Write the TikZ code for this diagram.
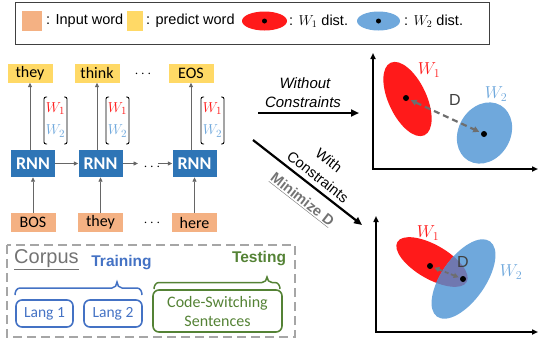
\documentclass[tikz,border=0pt]{standalone}
\usepackage{fontspec}
\setmainfont{Liberation Sans}
\newfontfamily\calfont{Carlito}
\usetikzlibrary{arrows.meta}
\definecolor{inorange}{HTML}{F4B183}
\definecolor{predyellow}{HTML}{FFD966}
\definecolor{rnnblue}{HTML}{2E75B6}
\definecolor{wred}{HTML}{FF1A1A}
\definecolor{wblue}{HTML}{6FA8DC}
\definecolor{trainblue}{HTML}{4472C4}
\definecolor{testgreen}{HTML}{548235}
\definecolor{overlapc}{HTML}{7078B0}
\definecolor{dgray}{HTML}{6E6E6E}
\definecolor{corpgray}{HTML}{A6A6A6}
\newcommand{\fsz}[2]{\fontsize{#1}{#2}\selectfont}
\begin{document}
\begin{tikzpicture}[x=1pt,y=-1pt,
  wordbox/.style={minimum width=45pt, minimum height=19pt, inner sep=0pt, font=\calfont\fsz{16}{18}},
  inbox/.style={wordbox, fill=inorange},
  predbox/.style={wordbox, fill=predyellow},
  rnnbox/.style={fill=rnnblue, text=white, minimum width=44pt, minimum height=27pt, inner sep=0pt, font=\calfont\bfseries\fsz{18}{20}},
  flow/.style={draw=black!60, line width=0.8pt, -{Triangle[length=4.5pt,width=4pt]}},
  bigarrow/.style={line width=2.2pt, -{Triangle[length=8pt,width=7pt]}},
  axisline/.style={line width=1.6pt, -{Triangle[length=6pt,width=5pt]}},
  distarrow/.style={dash pattern=on 6pt off 4pt, draw=dgray, line width=2.2pt, {Triangle[length=6pt,width=6pt]}-{Triangle[length=6pt,width=6pt]}},
  bigdot/.style={circle, fill=black, inner sep=0pt, minimum size=6pt},
  wlab/.style={inner sep=0pt, font=\fsz{15}{17}},
  legtext/.style={inner sep=0pt, anchor=west, font=\fsz{14.5}{16}},
  bracketline/.style={line width=0.9pt, rounded corners=2pt},
  cdots/.style={inner sep=0pt, font=\fsz{14}{16}},
  langbox/.style={draw=trainblue, text=trainblue, line width=1.6pt, rounded corners=6pt, inner sep=0pt, font=\calfont\fsz{15.5}{17}},
  plotlab/.style={inner sep=0pt, font=\fsz{18}{20}},
  slopetext/.style={inner sep=0pt, rotate=-38, font=\fsz{14.5}{16}},
]
\useasboundingbox (0,0) rectangle (538,341);

% ---------- legend ----------
\node[draw=black!75, line width=0.8pt, minimum width=474pt, minimum height=42pt, inner sep=0pt] (legend) at (252,23) {};
\node[fill=inorange, minimum width=20pt, minimum height=20pt, inner sep=0pt] (legin) at (32,21) {};
\node[legtext] (legintext) at (46,21) {: Input word};
\node[fill=predyellow, minimum width=16pt, minimum height=20pt, inner sep=0pt] (legpred) at (135,21) {};
\node[legtext] (legpredtext) at (146,21) {: predict word};
\fill[wred] (264.5,21) ellipse [x radius=22.5, y radius=9.5];
\node[bigdot, minimum size=5pt] (legdot1) at (264.5,21) {};
\node[legtext] (legw1) at (289,21) {: $W_1$ dist.};
\fill[wblue] (378.5,21) ellipse [x radius=21.5, y radius=9.5];
\node[bigdot, minimum size=5pt] (legdot2) at (378.5,21) {};
\node[legtext] (legw2) at (404,21) {: $W_2$ dist.};

% ---------- RNN chain ----------
\node[predbox] (out1) at (30,73) {they};
\node[predbox] (out2) at (97,73) {think};
\node[predbox] (out3) at (191,73) {EOS};
\node[cdots] (outdots) at (143,74) {$\cdots$};

\node[rnnbox] (rnn1) at (33,163.5) {RNN};
\node[rnnbox] (rnn2) at (100.5,163.5) {RNN};
\node[rnnbox] (rnn3) at (194.5,163.5) {RNN};
\node[cdots] (rnndots) at (152,167) {$\cdots$};

\node[inbox] (in1) at (33,222.5) {BOS};
\node[inbox] (in2) at (100.5,222.5) {they};
\node[inbox] (in3) at (194.5,222.5) {here};
\node[cdots] (indots) at (152,223.5) {$\cdots$};

\draw[flow] (in1) -- (rnn1);
\draw[flow] (in2) -- (rnn2);
\draw[flow] (in3) -- (rnn3);
\draw[flow] (rnn1.north -| out1) -- (out1);
\draw[flow] (rnn2.north -| out2) -- (out2);
\draw[flow] (rnn3.north -| out3) -- (out3);
\coordinate (dl) at (138,163.5);
\coordinate (dr) at (158,163.5);
\draw[flow] (rnn1) -- (rnn2);
\draw[flow] (rnn2) -- (dl);
\draw[flow] (dr) -- (rnn3);

% W1/W2 vectors
\foreach \i/\x in {1/55.5, 2/117.5, 3/212.5}{
  \node[wlab, text=wred] (wa\i) at (\x,108.5) {$W_1$};
  \node[wlab, text=wblue] (wb\i) at (\x,131) {$W_2$};
  \draw[bracketline] (\x-8.5,97) -- (\x-11.5,97) -- (\x-11.5,144) -- (\x-8.5,144);
  \draw[bracketline] (\x+8.5,97) -- (\x+11.5,97) -- (\x+11.5,144) -- (\x+8.5,144);
}

% ---------- Corpus ----------
\draw[corpgray, line width=1.8pt, dash pattern=on 9pt off 5pt] (7,245) rectangle (295,337);
\node[inner sep=0pt, anchor=west, text=black!55, font=\fsz{20}{22}] (corpus) at (14,260) {\underline{Corpus}};
\node[inner sep=0pt, text=trainblue, font=\bfseries\fsz{15.5}{17}] (training) at (121.5,263) {Training};
\node[inner sep=0pt, text=testgreen, font=\bfseries\fsz{15.5}{17}] (testing) at (259,259) {Testing};
\draw[trainblue, line width=1.5pt] (15,295) to[out=90,in=180] (20,288) -- (112,288) to[out=0,in=-90] (117,282) to[out=-90,in=180] (122,288) -- (137,288) to[out=0,in=90] (142,295);
\draw[testgreen, line width=1.5pt] (154,289) to[out=90,in=180] (159,282.5) -- (262,282.5) to[out=0,in=-90] (267,277) to[out=-90,in=180] (272,282.5) -- (275,282.5) to[out=0,in=90] (280,289);
\node[langbox, minimum width=57pt, minimum height=27pt] (lang1) at (44.5,313.5) {Lang 1};
\node[langbox, minimum width=58pt, minimum height=27pt] (lang2) at (113,313.5) {Lang 2};
\node[langbox, draw=testgreen, text=testgreen, minimum width=129pt, minimum height=42pt, align=center, font=\calfont\fsz{16}{19}] (cs) at (217.5,311) {Code-Switching\\Sentences};

% ---------- Without constraints ----------
\coordinate (woA) at (258,113);
\coordinate (woB) at (359,113);
\draw[bigarrow] (woA) -- (woB);
\node[inner sep=0pt, font=\itshape\fsz{15}{17}] (wolab1) at (305,83) {Without};
\node[inner sep=0pt, font=\itshape\fsz{15}{17}] (wolab2) at (303,102) {Constraints};

% ---------- With constraints ----------
\coordinate (wA) at (253,140);
\coordinate (wB) at (362,225);
\draw[bigarrow] (wA) -- (wB);
\node[slopetext] (wlab1) at (329,160) {With};
\node[slopetext] (wlab2) at (318,177) {Constraints};
\node[slopetext, text=black!55, font=\bfseries\fsz{14.5}{16}] (minlab) at (302,200) {\underline{Minimize D}};

% ---------- top plot ----------
\coordinate (o1) at (373,169);
\coordinate (y1) at (373,53);
\coordinate (x1) at (538,169);
\fill[wred, rotate around={-65:(407.5,99)}] (407.5,99) ellipse [x radius=40, y radius=19];
\fill[wblue, rotate around={60:(484.5,133)}] (484.5,133) ellipse [x radius=32, y radius=26];
\node[bigdot] (t1) at (406,98) {};
\node[bigdot] (t2) at (484,134) {};
\draw[distarrow, shorten <=2pt, shorten >=2pt] (t1) -- (t2);
\node[plotlab, text=wred] (tw1) at (429,70) {$W_1$};
\node[plotlab, text=wblue] (tw2) at (496,94) {$W_2$};
\node[inner sep=0pt, text=black!75, font=\fsz{16}{18}] (td) at (455,100) {D};
\draw[axisline] (o1) -- (y1);
\draw[axisline] ([xshift=-0.8pt]o1) -- (x1);

% ---------- bottom plot ----------
\coordinate (o2) at (376,332);
\coordinate (y2) at (376,216);
\coordinate (x2) at (538,332);
\fill[wred, rotate around={-30:(432,262)}] (432,262) ellipse [x radius=40, y radius=17];
\fill[wblue, rotate around={55:(463.5,279)}] (463.5,279) ellipse [x radius=46, y radius=22];
\begin{scope}
  \clip[rotate around={-30:(432,262)}] (432,262) ellipse [x radius=40, y radius=17];
  \fill[overlapc, rotate around={55:(463.5,279)}] (463.5,279) ellipse [x radius=46, y radius=22];
\end{scope}
\node[bigdot] (b1) at (430,266) {};
\node[bigdot] (b2) at (463,279) {};
\draw[distarrow, line width=1.8pt, dash pattern=on 4pt off 2.5pt, {Triangle[length=5pt,width=5pt]}-{Triangle[length=5pt,width=5pt]}, shorten <=1.5pt, shorten >=1.5pt] (b1) -- (b2);
\node[plotlab, text=wred] (bw1) at (428,233) {$W_1$};
\node[plotlab, text=wblue] (bw2) at (511,272) {$W_2$};
\node[inner sep=0pt, text=black!75, font=\fsz{16}{18}] (bd) at (463,262) {D};
\draw[axisline] (o2) -- (y2);
\draw[axisline] ([xshift=-0.8pt]o2) -- (x2);
\end{tikzpicture}
\end{document}
